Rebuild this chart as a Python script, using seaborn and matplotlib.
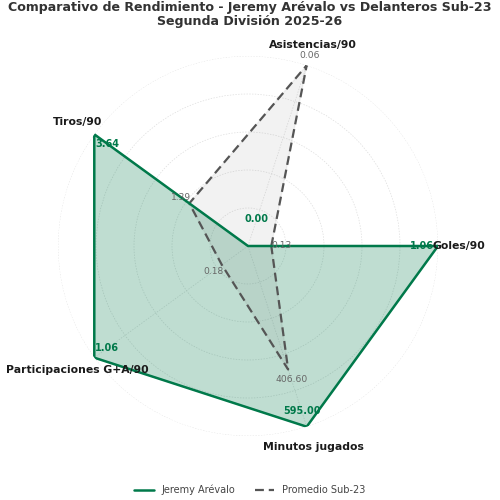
import numpy as np
import matplotlib
matplotlib.use('Agg')
import matplotlib.pyplot as plt
import seaborn as sns

categories = ['Goles/90', 'Asistencias/90', 'Tiros/90', 'Participaciones G+A/90', 'Minutos jugados']
jugador = [1.06, 0.00, 3.64, 1.06, 595.00]
promedio = [0.13, 0.06, 1.39, 0.18, 406.60]

player_name = 'Jeremy Arévalo'
avg_name = 'Promedio Sub-23'
title = 'Comparativo de Rendimiento - Jeremy Arévalo vs Delanteros Sub-23\nSegunda División 2025-26'

GREEN = '#00794a'
GREY = '#555555'

sns.set_theme(style='white')
plt.rcParams['font.family'] = ['DejaVu Sans']

# each axis scaled by the larger of the two values
top = [max(a, b) for a, b in zip(jugador, promedio)]
norm_j = [v / t if t else 0 for v, t in zip(jugador, top)]
norm_p = [v / t if t else 0 for v, t in zip(promedio, top)]

n = len(categories)
angles = np.linspace(0, 2 * np.pi, n, endpoint=False)
ang_c = np.append(angles, angles[0])
rj = np.append(norm_j, norm_j[0])
rp = np.append(norm_p, norm_p[0])

fig = plt.figure(figsize=(5, 5), dpi=100)
ax = fig.add_axes([0.116, 0.128, 0.76, 0.76], polar=True)

ax.fill(ang_c, rj, color=GREEN, alpha=0.25, zorder=2)
ax.fill(ang_c, rp, color='#808080', alpha=0.1, zorder=2)
ax.plot(ang_c, rp, color=GREY, lw=1.6, ls=(0, (4, 2.2)), label=avg_name, zorder=3)
ax.plot(ang_c, rj, color=GREEN, lw=1.8, label=player_name, zorder=4)

ax.set_ylim(0, 1)
ax.set_yticks([0.2, 0.4, 0.6, 0.8, 1.0])
ax.set_yticklabels([])
ax.set_xticks(angles)
ax.set_xticklabels([])
ax.grid(color='#dddddd', ls=(0, (2, 2)), lw=0.5)
ax.spines['polar'].set_visible(False)

for a, lab in zip(angles, categories):
    ax.text(a, 1.11, lab, fontsize=7.8, fontweight='bold', color='#1a1a1a',
            ha='center', va='center', zorder=6)

for a, r, v in zip(angles, norm_j, jugador):
    rr = max(r - 0.085, 0.15)
    ax.text(a, rr, f'{v:.2f}', color=GREEN, fontsize=7, fontweight='bold',
            ha='center', va='center', zorder=5)
for a, r, v in zip(angles, norm_p, promedio):
    ax.text(a, r + 0.055, f'{v:.2f}', color='#666666', fontsize=6.6,
            ha='center', va='center', zorder=5)

fig.text(0.5, 0.998, title, ha='center', va='top', fontsize=9.1,
         fontweight='bold', color='#333333', linespacing=1.05)

leg = fig.legend(loc='lower center', bbox_to_anchor=(0.5, -0.008), ncol=2,
                 frameon=False, fontsize=7, handles=ax.get_lines()[::-1],
                 columnspacing=2.0)
for t in leg.get_texts():
    t.set_color('#444444')

fig.savefig('out.png', dpi=100)
